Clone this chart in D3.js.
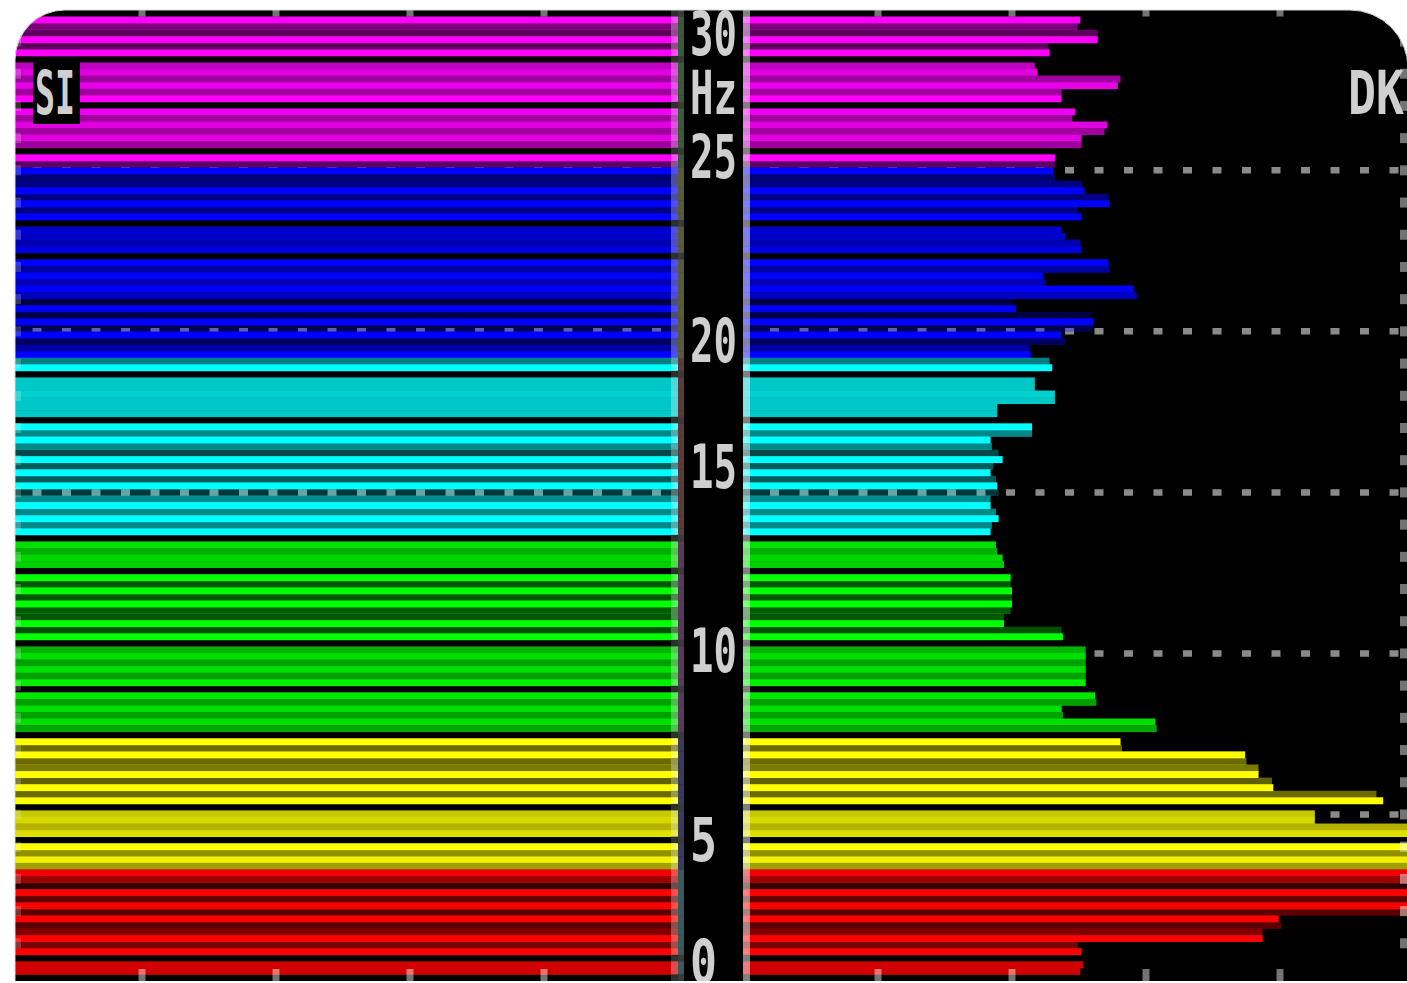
<!DOCTYPE html>
<html><head><meta charset="utf-8">
<script src="https://cdn.jsdelivr.net/npm/d3@7"></script>
<style>html,body{margin:0;background:#fff;}svg{display:block}</style>
</head><body><svg id="c" width="1407" height="983"></svg>
<script>
// Rows from 30 Hz (top) down to 0 Hz (bottom)
const rowColors = [
"#000000",
"#ff00ff","#7a0078","#5c005c","#ff00ff","#5a0058","#ff00ff",
"#000000",
"#c000c0","#e000e0","#a000a0","#e800e8","#a000a0","#ff00ff",
"#000000",
"#f000f0","#a000a0","#e000e0","#a000a0","#e000e0","#a000a0",
"#000000",
"#ff00ff","#600060",
"#0000ff","#000070","#000080","#0000ff","#000080","#0000ff","#000080","#0000ff",
"#000000",
"#0000d0","#0000c8","#0000b0","#0000e0",
"#000000",
"#0000ff","#0000a0","#0000ff","#0000b0","#0000ff","#0000c0","#000040","#0000ff","#000040","#0000ff","#000050","#0000ff","#000060","#0000a0","#0000ff",
"#008080","#00ffff",
"#000000",
"#00c8c8","#00c8c8","#00d0d0","#00c8c8","#00c8c8","#00c8c8",
"#000000",
"#00ffff","#008888","#00ffff","#008888","#004848","#00ffff","#005c5c","#00ffff","#005c5c","#00ffff","#003838","#008c8c","#00ffff","#008888","#00ffff","#008888","#00ffff",
"#000000",
"#00e000","#00b000","#00d800","#00d000",
"#000000",
"#00ff00","#005800","#00ff00","#005800","#00ff00","#005c00","#005800","#00ff00","#005000","#00ff00",
"#000000",
"#00b400","#00e000","#00a000","#00e000","#00a000","#00f000",
"#000000",
"#00e800","#00a000","#00e000","#00a000","#00e000","#00a800",
"#000000",
"#ffff00","#6a6a00","#ffff00","#6a6a00","#7a7a00","#ffff00","#606000","#ffff00","#6a6a00","#ffff00",
"#000000",
"#c8c800","#d8d800","#b4b400","#e0e000",
"#000000",
"#ffff00","#909000","#f0f000","#a0a000",
"#f00000","#a00000","#300000","#ff0000","#600000","#ff0000","#5a0000","#ff0000","#5a0000","#800000","#ff0000","#780000","#ff0000",
"#000000",
"#d00000","#d00000",
"#000000"
];

// DK (right) values
const rightValues = [
0,
2.51,2.49,2.64,2.64,2.27,2.28,
0,
2.17,2.19,2.81,2.79,2.37,2.37,
0,
2.47,2.45,2.71,2.69,2.52,2.52,
0,
2.32,2.32,
2.31,2.32,2.52,2.54,2.72,2.73,2.49,2.52,
0,
2.37,2.40,2.51,2.52,
0,
2.72,2.73,2.23,2.25,2.91,2.93,2.01,2.03,2.59,2.61,2.60,2.37,2.40,2.13,2.14,
2.28,2.30,
0,
2.17,2.17,2.32,2.32,1.89,1.89,
0,
2.15,2.15,1.84,1.85,1.90,1.93,1.86,1.84,1.88,1.89,1.90,1.84,1.84,1.88,1.90,1.85,1.84,
0,
1.88,1.89,1.93,1.94,
0,
1.99,1.99,2.00,2.00,2.00,1.99,1.94,1.94,2.37,2.38,
0,
2.55,2.55,2.55,2.55,2.55,2.55,
0,
2.62,2.63,2.37,2.38,3.07,3.08,
0,
2.81,2.82,3.74,3.75,3.84,3.84,3.94,3.95,4.72,4.77,
0,
4.26,4.26,5,5,
0,
5,5,5,5,
5,5,5,5,5,5,5,3.99,4.01,3.87,3.87,2.49,2.52,
0,
2.53,2.51,
0
];

// SI (left) values
const leftValues = [
0,
5,5,5,5,5,5,
0,
5,5,5,5,5,5,
0,
5,5,5,5,5,5,
0,
5,5,
5,5,5,5,5,5,5,5,
0,
5,5,5,5,
0,
5,5,5,5,5,5,5,5,5,5,5,5,5,5,5,
5,5,
0,
5,5,5,5,5,5,
0,
5,5,5,5,5,5,5,5,5,5,5,5,5,5,5,5,5,
0,
5,5,5,5,
0,
5,5,5,5,5,5,5,5,5,5,
0,
5,5,5,5,5,5,
0,
5,5,5,5,5,5,
0,
5,5,5,5,5,5,5,5,5,5,
0,
5,5,5,5,
0,
5,5,5,5,
5,5,5,5,5,5,5,5,5,5,5,5,5,
0,
5,5,
0
];

const freqTicks = [0, 5, 10, 15, 20, 25, 30];
const tickLabels = ["0", "5", "10", "15", "20", "25", "30"];
const gridFreqs = [5, 10, 15, 20, 25];
const valueTicks = [1, 2, 3, 4];
const unitLabel = "Hz";
const leftName = "SI";
const rightName = "DK";

(function () {
const svg = d3.select("#c");
const W = 1407, H = 983;
const topY = 10, bottomY = 981, leftEdge = 15, rightEdge = 1408;

const rows = d3.scaleBand().domain(d3.range(rowColors.length)).range([topY, bottomY]).padding(0);
const yHz = d3.scaleLinear().domain([0, 30]).range([975.5, 9.3]);
const xR = d3.scaleLinear().domain([0, 5]).range([744, 1414]);
const xL = d3.scaleLinear().domain([0, 5]).range([678, 8]);

const defs = svg.append("defs");
const rl = 50, rr = 58;
const framePath = `M${leftEdge},${bottomY} L${leftEdge},${topY + rl} A${rl},${rl} 0 0 1 ${leftEdge + rl},${topY} L${rightEdge - rr},${topY} A${rr},${rr} 0 0 1 ${rightEdge},${topY + rr} L${rightEdge},${bottomY} Z`;
defs.append("clipPath").attr("id", "frame").append("path").attr("d", framePath);

const g = svg.append("g").attr("clip-path", "url(#frame)");
g.append("rect").attr("x", 0).attr("y", 0).attr("width", W).attr("height", H).attr("fill", "#000");

// gridlines beneath bars
gridFreqs.forEach(f => {
  g.append("line").attr("x1", leftEdge).attr("x2", 678).attr("y1", yHz(f)).attr("y2", yHz(f))
    .attr("stroke", "#8a8a8a").attr("stroke-width", 6.5).attr("stroke-dasharray", "9 20.5").attr("stroke-dashoffset", 12);
  g.append("line").attr("x1", 750).attr("x2", W).attr("y1", yHz(f)).attr("y2", yHz(f))
    .attr("stroke", "#8a8a8a").attr("stroke-width", 6.5).attr("stroke-dasharray", "9 20.5").attr("stroke-dashoffset", 9.5);
});

// dark rows are a translucent tint (grid shows through); bright rows are opaque
function decompose(c) {
  const rgb = d3.rgb(c);
  const m = Math.max(rgb.r, rgb.g, rgb.b);
  if (m === 0) return null;
  const a = m / 255;
  if (a >= 0.6) return { base: rgb.formatHex(), a: 1 };
  return { base: d3.rgb(rgb.r / a, rgb.g / a, rgb.b / a).formatHex(), a };
}

const data = rowColors.map((c, i) => ({ i, c, d: decompose(c), l: leftValues[i], r: rightValues[i] }));
const colored = data.filter(d => d.d);

g.selectAll("rect.lbar").data(colored).join("rect").attr("class", "lbar")
  .attr("x", d => xL(d.l)).attr("width", d => xL(0) - xL(d.l))
  .attr("y", d => rows(d.i)).attr("height", rows.bandwidth() + 0.4)
  .attr("fill", d => d.d.base).attr("fill-opacity", d => d.d.a);

g.selectAll("rect.rbar").data(colored).join("rect").attr("class", "rbar")
  .attr("x", xR(0)).attr("width", d => xR(d.r) - xR(0))
  .attr("y", d => rows(d.i)).attr("height", rows.bandwidth() + 0.4)
  .attr("fill", d => d.d.base).attr("fill-opacity", d => d.d.a);

// centre columns
g.selectAll("rect.lcol").data(data).join("rect").attr("class", "lcol")
  .attr("x", 671).attr("width", 7).attr("y", d => rows(d.i)).attr("height", rows.bandwidth() + 0.4)
  .attr("fill", d => d.d ? d3.interpolateRgb(d.c, "#fff")(0.3) : "#2a302a");
g.selectAll("rect.axcol").data(data).join("rect").attr("class", "axcol")
  .attr("x", 678).attr("width", 6).attr("y", d => rows(d.i)).attr("height", rows.bandwidth() + 0.4)
  .attr("fill", d => {
    if (!d.d) return "#3a3a3a";
    const c = d3.rgb(d.c), m = Math.max(c.r, c.g, c.b) / 255;
    const b = { r: c.r / m, g: c.g / m, b: c.b / m };
    return d3.rgb(58 + (255 - b.r) / 255 * 32, 58 + (255 - b.g) / 255 * 32, 58 + (255 - b.b) / 255 * 32).formatHex();
  });
g.selectAll("rect.rcol").data(data).join("rect").attr("class", "rcol")
  .attr("x", 743).attr("width", 7).attr("y", d => rows(d.i)).attr("height", rows.bandwidth() + 0.4)
  .attr("fill", d => {
    const c = d3.rgb(d.c);
    const s = v => v + 128 - v * 128 / 255;
    return d3.rgb(s(c.r), s(c.g), s(c.b)).formatHex();
  });

// value ticks at top and bottom
const tickXs = valueTicks.map(v => xL(v)).concat(valueTicks.map(v => xR(v)));
tickXs.forEach(x => {
  g.append("rect").attr("x", x - 3.5).attr("y", topY).attr("width", 7).attr("height", 6.5).attr("fill", "#fff").attr("fill-opacity", 0.45);
  g.append("rect").attr("x", x - 3.5).attr("y", 969).attr("width", 7).attr("height", 12).attr("fill", "#fff").attr("fill-opacity", 0.45);
});
// minor frequency ticks at both edges
d3.range(1, 30).forEach(f => {
  g.append("rect").attr("x", leftEdge).attr("y", yHz(f) - 5).attr("width", 6).attr("height", 10).attr("fill", "#fff").attr("fill-opacity", 0.2);
  g.append("rect").attr("x", 1400).attr("y", yHz(f) - 5).attr("width", 7).attr("height", 10).attr("fill", "#fff").attr("fill-opacity", 0.45);
});

// labels
const font = "'DejaVu Sans Mono', monospace";
const fs = 60;
const nudge = { "30": 24, "25": -14, "20": 9, "15": -26, "10": -3, "5": 25, "0": -15 };
freqTicks.forEach((f, k) => {
  const t = tickLabels[k];
  g.append("text").attr("x", 690).attr("y", yHz(f) + 22 + nudge[t])
    .attr("font-family", font).attr("font-weight", "bold").attr("font-size", fs)
    .attr("textLength", t.length === 1 ? 27 : 47).attr("lengthAdjust", "spacingAndGlyphs")
    .attr("fill", "#cfcfcf").text(t);
});
g.append("text").attr("x", 690).attr("y", yHz(27.43) + 22)
  .attr("font-family", font).attr("font-weight", "bold").attr("font-size", fs)
  .attr("textLength", 47).attr("lengthAdjust", "spacingAndGlyphs").attr("fill", "#cfcfcf").text(unitLabel);

g.append("rect").attr("x", 33).attr("y", 60).attr("width", 47).attr("height", 64).attr("fill", "#000");
g.append("text").attr("x", 35).attr("y", 114)
  .attr("font-family", font).attr("font-weight", "bold").attr("font-size", fs)
  .attr("textLength", 40).attr("lengthAdjust", "spacingAndGlyphs").attr("fill", "#cfcfcf").text(leftName);
g.append("text").attr("x", 1348).attr("y", 114)
  .attr("font-family", font).attr("font-weight", "bold").attr("font-size", fs)
  .attr("textLength", 56).attr("lengthAdjust", "spacingAndGlyphs").attr("fill", "#cfcfcf").text(rightName);

svg.append("path").attr("fill", "none").attr("stroke", "#d8d8d8").attr("stroke-width", 1)
  .attr("d", `M${leftEdge},${bottomY} L${leftEdge},${topY + rl} A${rl},${rl} 0 0 1 ${leftEdge + rl},${topY} L${rightEdge - rr},${topY} A${rr},${rr} 0 0 1 ${rightEdge},${topY + rr}`);
})();
</script>
</body></html>
